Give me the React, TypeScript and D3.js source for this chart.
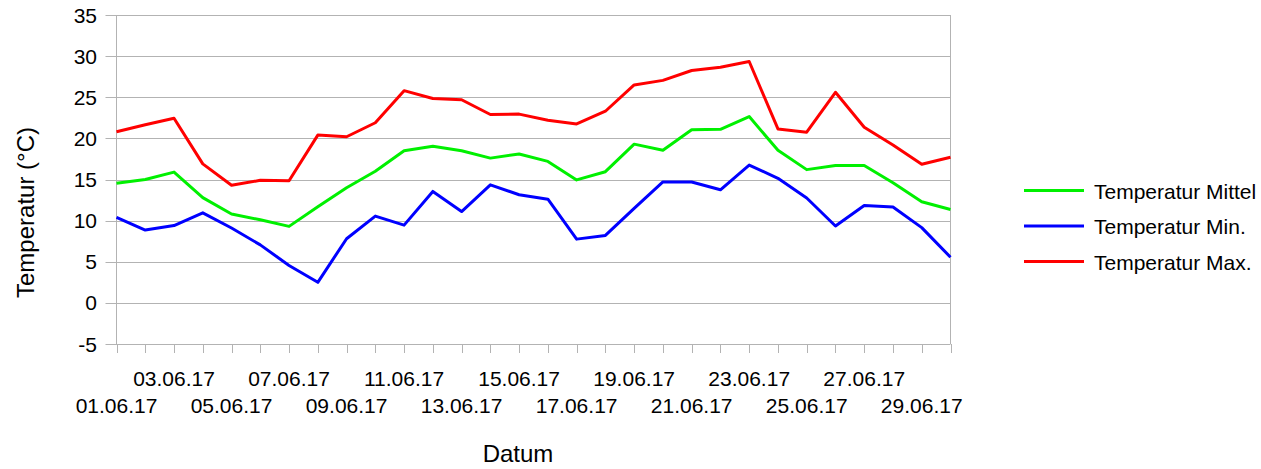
import * as d3 from 'd3';
import React from 'react';

// Tageswerte Juni 2017
const dates: string[] = Array.from({ length: 30 }, (_, i) => `${String(i + 1).padStart(2, '0')}.06.17`);

const tempMittel = [
    14.55, 15.0, 15.9, 12.8, 10.8, 10.1, 9.3, 11.7, 14.0, 16.0,
    18.5, 19.05, 18.5, 17.6, 18.1, 17.2, 14.95, 15.95, 19.3, 18.55,
    21.05, 21.1, 22.65, 18.55, 16.2, 16.7, 16.7, 14.6, 12.3, 11.35,
];
const tempMin = [
    10.4, 8.85, 9.4, 10.95, 9.1, 7.05, 4.55, 2.5, 7.8, 10.55,
    9.45, 13.55, 11.1, 14.35, 13.15, 12.6, 7.75, 8.2, 11.5, 14.7,
    14.7, 13.75, 16.75, 15.15, 12.75, 9.35, 11.85, 11.65, 9.15, 5.55,
];
const tempMax = [
    20.8, 21.65, 22.45, 16.9, 14.3, 14.9, 14.85, 20.4, 20.2, 21.9,
    25.8, 24.85, 24.7, 22.9, 22.95, 22.2, 21.75, 23.3, 26.5, 27.05,
    28.25, 28.65, 29.35, 21.15, 20.75, 25.6, 21.35, 19.2, 16.85, 17.7,
];
const yTicks = [-5, 0, 5, 10, 15, 20, 25, 30, 35];

const series = [
    { name: 'Temperatur Mittel', values: tempMittel, color: '#00f000' },
    { name: 'Temperatur Min.', values: tempMin, color: '#0000ff' },
    { name: 'Temperatur Max.', values: tempMax, color: '#ff0000' },
];

const App: React.FC = () => {
    const width = 1261;
    const height = 469;
    const plot = { left: 116.5, right: 950.5, top: 15, bottom: 344 };
    const font = '"Liberation Sans", Arial, sans-serif';

    const x = d3.scalePoint<string>().domain(dates).range([plot.left, plot.right]);
    const y = d3.scaleLinear().domain([-5, 35]).range([plot.bottom, plot.top]);

    const line = d3
        .line<number>()
        .x((_, i) => x(dates[i])!)
        .y(d => y(d));

    return (
        <svg width={width} height={height} style={{ position: 'absolute', left: 0, top: 0 }} fontFamily={font}>
            <rect width={width} height={height} fill="#fff" />

            {/* grid + y ticks */}
            {yTicks.map(t => (
                <g key={t}>
                    <line x1={plot.left - 11} x2={plot.right} y1={Math.round(y(t)) + 0.5} y2={Math.round(y(t)) + 0.5} stroke="#b3b3b3" strokeWidth={1} />
                    <text x={97} y={y(t)} dy="0.36em" textAnchor="end" fontSize={21} fill="#000">{t}</text>
                </g>
            ))}

            {/* axis lines */}
            <line x1={plot.left} x2={plot.left} y1={plot.top} y2={plot.bottom} stroke="#b3b3b3" />
            <line x1={plot.right} x2={plot.right} y1={plot.top} y2={plot.bottom} stroke="#b3b3b3" />

            {/* x ticks */}
            {dates.map(d => (
                <line key={d} x1={Math.round(x(d)!) + 0.5} x2={Math.round(x(d)!) + 0.5} y1={plot.bottom} y2={plot.bottom + 9} stroke="#b3b3b3" />
            ))}
            {dates.map((d, i) =>
                i % 2 === 0 ? (
                    <text key={d} x={x(d)} y={i % 4 === 0 ? 413 : 386} textAnchor="middle" fontSize={21} fill="#000">{d}</text>
                ) : null
            )}

            {/* series */}
            {series.map(s => (
                <path key={s.name} d={line(s.values)!} fill="none" stroke={s.color} strokeWidth={3} strokeLinejoin="round" />
            ))}

            {/* axis titles */}
            <text x={518} y={462} textAnchor="middle" fontSize={24} fill="#000">Datum</text>
            <text transform={`translate(34,212.5) rotate(-90)`} textAnchor="middle" fontSize={24} fill="#000">Temperatur (°C)</text>

            {/* legend */}
            {series.map((s, i) => (
                <g key={s.name} transform={`translate(1024,${190.5 + i * 35.5})`}>
                    <line x1={0} x2={60} y1={0} y2={0} stroke={s.color} strokeWidth={3} />
                    <text x={70} y={0} dy="0.4em" fontSize={21} fill="#000">{s.name}</text>
                </g>
            ))}
        </svg>
    );
};

export default App;
